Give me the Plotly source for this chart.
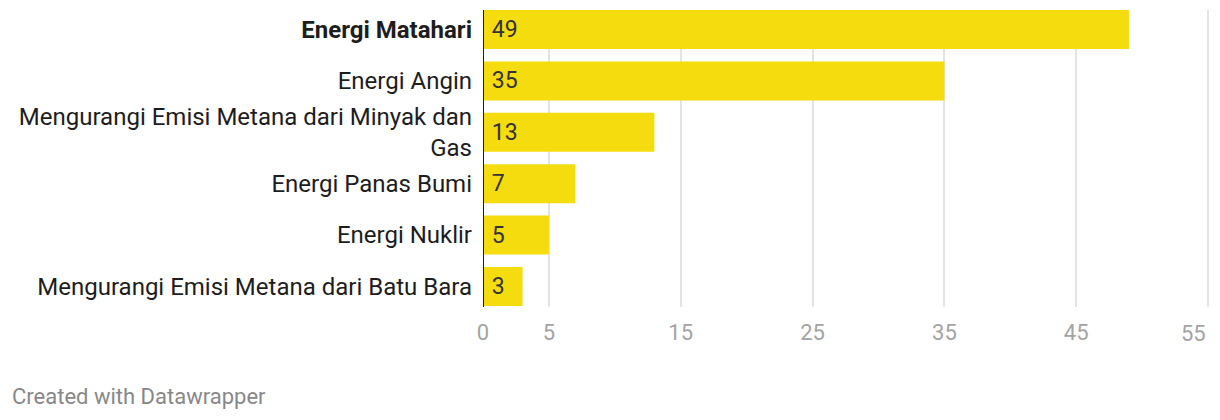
import plotly.graph_objects as go

categories = [
    "<b>Energi Matahari</b>",
    "Energi Angin",
    "Mengurangi Emisi Metana dari Minyak dan<br>Gas",
    "Energi Panas Bumi",
    "Energi Nuklir",
    "Mengurangi Emisi Metana dari Batu Bara",
]
values = [49, 35, 13, 7, 5, 3]
tick_vals = [0, 5, 15, 25, 35, 45, 55]
tick_text = ["0", "5", "15", "25", "35", "45", "55"]

BAR = "#F5DC0F"
TICK_FONT = dict(family="Roboto", size=22, color="#a3a3a3")

fig = go.Figure()
fig.add_trace(go.Bar(
    x=values,
    y=categories,
    orientation="h",
    marker=dict(color=BAR, line=dict(width=0)),
    text=values,
    texttemplate="\u00a0%{x}",
    textposition="inside",
    insidetextanchor="start",
    textfont=dict(family="Roboto", size=23, color="#333333"),
    constraintext="none",
    hoverinfo="skip",
))

# last tick label is right-aligned to its gridline (as in the reference)
shown_text = tick_text[:-1] + [""]

fig.update_layout(
    width=1220,
    height=420,
    margin=dict(l=483, r=10, t=10, b=113, autoexpand=False),
    paper_bgcolor="white",
    plot_bgcolor="white",
    bargap=0.24,
    showlegend=False,
    font=dict(family="Roboto", size=23, color="#1d1d1d"),
    xaxis=dict(
        range=[0, 55.15],
        tickvals=tick_vals,
        ticktext=shown_text,
        showgrid=True,
        gridcolor="#e3e3e3",
        gridwidth=2,
        zeroline=False,
        showline=False,
        ticks="",
        ticklabelstandoff=10,
        tickfont=TICK_FONT,
        automargin=False,
        fixedrange=True,
    ),
    yaxis=dict(
        type="category",
        categoryorder="array",
        categoryarray=categories,
        range=[5.4, -0.38],
        showgrid=False,
        zeroline=False,
        showline=False,
        ticks="",
        ticklabelstandoff=10,
        tickfont=dict(family="Roboto", size=24, color="#1d1d1d"),
        automargin=False,
        fixedrange=True,
    ),
    shapes=[dict(
        type="line", xref="x", yref="paper",
        x0=0, x1=0, y0=0, y1=1,
        line=dict(color="#1d1d1d", width=2),
    )],
    annotations=[
        dict(
            text=tick_text[-1],
            xref="x", yref="paper",
            x=tick_vals[-1], y=0,
            xanchor="right", yanchor="middle",
            yshift=-26,
            showarrow=False,
            font=TICK_FONT,
        ),
        dict(
            text="Created with Datawrapper",
            xref="paper", yref="paper",
            x=-473 / (1220 - 483 - 10), y=0,
            xanchor="left", yanchor="middle",
            yshift=-89,
            showarrow=False,
            font=dict(family="Roboto", size=22, color="#888888"),
        ),
    ],
)

fig.write_html("out.html")
